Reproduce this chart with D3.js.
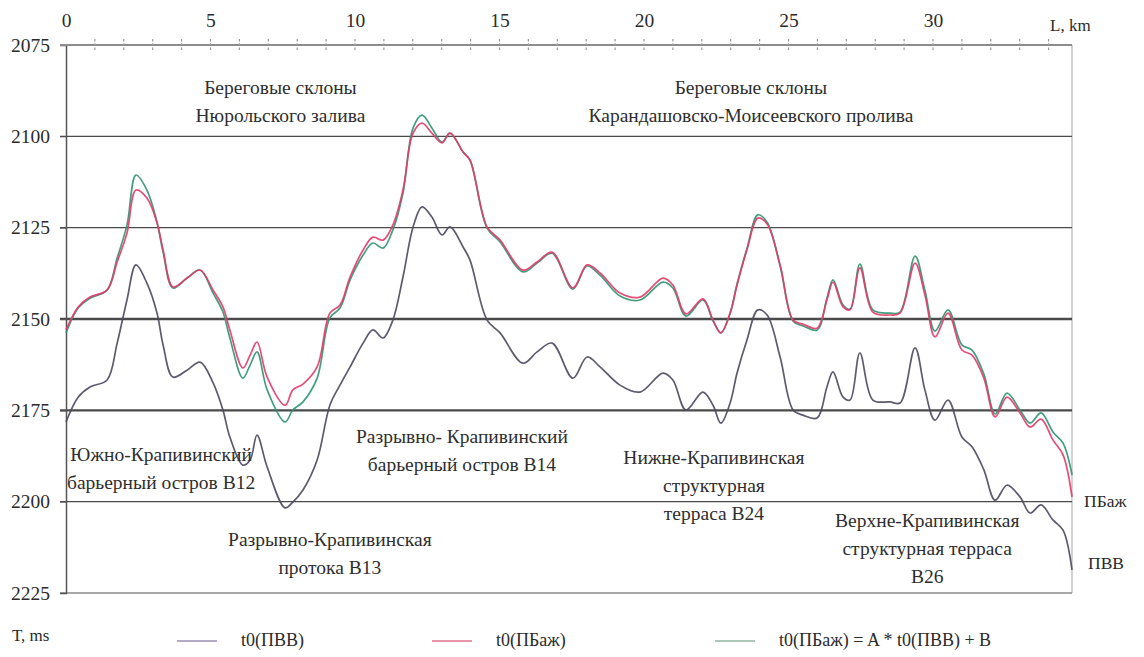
<!DOCTYPE html>
<html>
<head>
<meta charset="utf-8">
<script src="https://cdn.jsdelivr.net/npm/d3@7/dist/d3.min.js"></script>
<style>
  html, body { margin: 0; padding: 0; background: #fff; }
  svg { display: block; }
  svg text { font-family: "Liberation Serif", "Times New Roman", "DejaVu Serif", serif; }
</style>
</head>
<body>
<svg id="chart" width="1144" height="657"></svg>
<script>
// Profile distance along the line, km
const distanceKm = [0, 0.42, 0.83, 1.42, 1.77, 2.11, 2.42, 2.80, 3.15, 3.36, 3.70, 4.19, 4.64, 5.09, 5.43, 5.67,
  6.12, 6.37, 6.61, 6.96, 7.58, 7.85, 8.20, 8.69, 9.13, 9.48, 9.83, 10.28, 10.62, 10.97, 11.31, 11.66,
  12.01, 12.32, 12.66, 13.01, 13.29, 13.74, 13.98, 14.57, 15.02, 15.81, 16.30, 16.82, 17.54, 18.03,
  18.48, 19.17, 19.86, 20.66, 21.00, 21.45, 22.04, 22.39, 22.66, 22.98, 23.22, 23.56, 23.94, 24.26,
  24.71, 25.16, 25.50, 25.99, 26.33, 26.54, 26.89, 27.13, 27.47, 27.92, 28.51, 28.86, 29.38, 29.72,
  30.07, 30.52, 31.00, 31.35, 31.76, 32.15, 32.56, 33.01, 33.36, 33.74, 34.15, 34.50, 34.81];

// t0(ПБаж), ms
const tPBazh = [2153.0, 2146.7, 2144.0, 2142.1, 2134.4, 2126.5, 2114.7, 2116.9, 2123.7, 2131.1, 2141.2, 2138.8, 2136.6, 2142.1, 2146.7, 2153.0,
  2163.4, 2159.9, 2156.3, 2165.9, 2173.6, 2169.4, 2167.8, 2163.1, 2148.4, 2146.2, 2138.5, 2131.1, 2127.6, 2128.4, 2124.3, 2114.7,
  2099.1, 2096.4, 2099.1, 2101.8, 2099.1, 2104.3, 2106.5, 2124.8, 2128.4, 2136.6, 2134.4, 2131.7, 2141.5, 2135.2,
  2137.4, 2142.9, 2144.0, 2138.8, 2140.7, 2148.6, 2144.5, 2150.3, 2153.8, 2148.4, 2140.7, 2131.1, 2122.4, 2124.0,
  2135.2, 2150.3, 2151.4, 2152.5, 2144.8, 2139.9, 2146.7, 2147.5, 2136.0, 2148.1, 2148.9, 2148.4, 2134.7, 2143.4,
  2154.9, 2148.4, 2158.5, 2159.9, 2166.2, 2176.8, 2171.4, 2175.7, 2179.6, 2177.4, 2183.1, 2187.2, 2198.7];

// t0(ПБаж) = A * t0(ПВВ) + B, ms
const tPBazhFit = [2153.8, 2147.0, 2144.3, 2142.1, 2133.3, 2124.3, 2110.6, 2114.7, 2123.5, 2131.7, 2141.5, 2138.8, 2136.6, 2142.9, 2148.1, 2155.2,
  2166.2, 2162.6, 2159.0, 2169.4, 2178.2, 2174.9, 2172.7, 2166.2, 2149.7, 2147.0, 2139.3, 2132.5, 2129.2, 2130.6, 2125.6, 2115.5,
  2097.7, 2094.2, 2097.7, 2101.6, 2099.1, 2104.3, 2106.5, 2125.1, 2128.9, 2137.1, 2134.7, 2132.0, 2141.8, 2135.5,
  2138.0, 2143.7, 2144.8, 2139.9, 2141.5, 2149.2, 2144.8, 2150.6, 2153.8, 2148.4, 2140.4, 2130.8, 2121.5, 2123.5,
  2135.5, 2150.6, 2151.9, 2153.0, 2144.3, 2139.3, 2146.2, 2147.3, 2135.0, 2147.5, 2148.4, 2148.1, 2132.8, 2142.1,
  2153.3, 2147.5, 2157.1, 2158.5, 2165.1, 2176.0, 2170.3, 2174.9, 2178.5, 2175.7, 2180.9, 2184.0, 2192.7];

// t0(ПВВ), ms
const tPVV = [2178.2, 2171.4, 2168.6, 2166.7, 2156.6, 2144.8, 2135.2, 2140.2, 2148.4, 2157.1, 2165.9, 2164.0, 2161.8, 2167.5, 2174.9, 2182.3,
  2190.0, 2188.6, 2181.8, 2190.5, 2201.7, 2200.1, 2196.8, 2188.6, 2173.6, 2168.1, 2163.1, 2156.6, 2153.0, 2155.2, 2150.3, 2138.5,
  2124.8, 2119.3, 2122.1, 2127.0, 2124.8, 2130.3, 2133.9, 2150.3, 2153.8, 2162.1, 2159.0, 2156.6, 2166.2, 2160.4,
  2163.1, 2168.1, 2170.0, 2164.8, 2166.7, 2174.9, 2170.0, 2173.6, 2178.5, 2173.0, 2164.8, 2155.8, 2147.5, 2148.9,
  2160.4, 2174.9, 2176.3, 2177.1, 2168.6, 2164.5, 2171.4, 2172.2, 2159.3, 2172.2, 2172.7, 2173.0, 2157.9, 2169.4,
  2177.7, 2172.2, 2182.3, 2185.0, 2191.3, 2199.6, 2195.5, 2198.7, 2203.1, 2200.9, 2205.0, 2207.8, 2218.7];

// Axis ticks
const xLabelTicks = [0, 5, 10, 15, 20, 25, 30];
const xMinorTicks = d3.range(1, 35);
const yTicks = [2075, 2100, 2125, 2150, 2175, 2200, 2225];
const yBoldLines = [2150, 2175];

// Area annotations: centre km, first-line baseline ms, lines
const annotKm = [7.42, 23.7, 3.29, 13.7, 9.13, 22.42, 29.8];
const annotMs = [2088.4, 2088.4, 2188.9, 2183.9, 2212.1, 2189.7, 2206.9];
const annotLines = [
  ["Береговые склоны", "Нюрольского залива"],
  ["Береговые склоны", "Карандашовско-Моисеевского пролива"],
  ["Южно-Крапивинский", "барьерный остров В12"],
  ["Разрывно- Крапивинский", "барьерный остров В14"],
  ["Разрывно-Крапивинская", "протока В13"],
  ["Нижне-Крапивинская", "структурная", "терраса В24"],
  ["Верхне-Крапивинская", "структурная терраса", "В26"]
];

const seriesNames = ["t0(ПВВ)", "t0(ПБаж)", "t0(ПБаж) = A * t0(ПВВ) + B"];
const seriesColors = ["#4e4760", "#e23a68", "#2f9470"];
const legendColors = ["#9a8fb0", "#e0708e", "#93b3a3"];

const FONT = '"Liberation Serif", "Times New Roman", "DejaVu Serif", serif';

const svg = d3.select("#chart").attr("font-family", FONT);
const x = d3.scaleLinear().domain([0, 34.81]).range([66, 1072]);
const y = d3.scaleLinear().domain([2075, 2225]).range([45, 593]);

// right frame line
svg.append("line")
  .attr("x1", x(34.81)).attr("x2", x(34.81))
  .attr("y1", y(2075)).attr("y2", y(2225))
  .attr("stroke", "#c4c4c4").attr("stroke-width", 1.5);

// horizontal time lines
svg.append("g").selectAll("line")
  .data(yTicks.filter(d => d !== 2075))
  .join("line")
  .attr("x1", 60).attr("x2", x(34.81))
  .attr("y1", d => y(d)).attr("y2", d => y(d))
  .attr("stroke", d => d === 2225 ? "#8a8a8a" : "#4a4a4a")
  .attr("stroke-width", d => yBoldLines.includes(d) ? 2.4 : (d === 2225 ? 1.3 : 1.2));

// left axis with labels
const yAxis = d3.axisLeft(y).tickValues(yTicks).tickSize(6).tickPadding(10).tickFormat(d3.format("d"));
const gy = svg.append("g").attr("transform", `translate(${x(0)},0)`).call(yAxis)
  .attr("font-family", FONT).attr("font-size", 19.5);
gy.select(".domain").attr("stroke", "#555").attr("stroke-width", 1.5);
gy.selectAll(".tick line").attr("stroke", "#555");
gy.selectAll(".tick text").attr("fill", "#2b2b2b");

// top distance axis
svg.append("line")
  .attr("x1", 60).attr("x2", x(34.81))
  .attr("y1", y(2075)).attr("y2", y(2075))
  .attr("stroke", "#8c8c8c").attr("stroke-width", 2.2);
svg.append("g").selectAll("line")
  .data(xMinorTicks)
  .join("line")
  .attr("x1", d => x(d)).attr("x2", d => x(d))
  .attr("y1", y(2075) - 6).attr("y2", y(2075) + 7)
  .attr("stroke", "#9a9a9a").attr("stroke-width", 1.2)
  .attr("stroke-dasharray", "2.5,1.8");
const xAxis = d3.axisTop(x).tickValues(xLabelTicks).tickSize(0).tickPadding(18).tickFormat(d3.format("d"));
const gx = svg.append("g").attr("transform", `translate(0,${y(2075)})`).call(xAxis)
  .attr("font-family", FONT).attr("font-size", 19.5);
gx.select(".domain").remove();
gx.selectAll(".tick text").attr("fill", "#2b2b2b");

svg.append("text").attr("x", 1050).attr("y", 31)
  .attr("font-size", 17).attr("fill", "#2b2b2b").text("L, km");

// profile lines
const line = d3.line()
  .x((d, i) => x(distanceKm[i]))
  .y(d => y(d))
  .curve(d3.curveCatmullRom.alpha(0.5));

const drawOrder = [[tPBazhFit, 2], [tPBazh, 1], [tPVV, 0]];
drawOrder.forEach(([vals, k]) => {
  svg.append("path")
    .datum(vals)
    .attr("d", line)
    .attr("fill", "none")
    .attr("stroke", seriesColors[k])
    .attr("stroke-width", 1.7)
    .attr("stroke-linejoin", "round")
    .attr("opacity", 0.9);
});

// end labels of horizons
svg.append("text").attr("x", 1084).attr("y", y(2201.5))
  .attr("font-size", 17.5).attr("fill", "#2b2b2b").text("ПБаж");
svg.append("text").attr("x", 1088).attr("y", y(2218.5))
  .attr("font-size", 17.5).attr("fill", "#2b2b2b").text("ПВВ");

// area annotations
annotLines.forEach((lines, i) => {
  const t = svg.append("text")
    .attr("text-anchor", "middle")
    .attr("font-size", 19.5)
    .attr("fill", "#2e2e2e");
  lines.forEach((s, j) => {
    t.append("tspan")
      .attr("x", x(annotKm[i]))
      .attr("y", y(annotMs[i]) + j * 28)
      .text(s);
  });
});

// axis title
svg.append("text").attr("x", 12).attr("y", 641)
  .attr("font-size", 17).attr("fill", "#2b2b2b").text("T, ms");

// legend
const legendX = [177, 432, 715];
const legend = svg.append("g");
seriesNames.forEach((name, i) => {
  legend.append("line")
    .attr("x1", legendX[i]).attr("x2", legendX[i] + 40)
    .attr("y1", 641).attr("y2", 641)
    .attr("stroke", legendColors[i]).attr("stroke-width", 1.3);
  legend.append("text")
    .attr("x", legendX[i] + 64).attr("y", 646)
    .attr("font-size", 18).attr("fill", "#2b2b2b")
    .text(name);
});
</script>
</body>
</html>
